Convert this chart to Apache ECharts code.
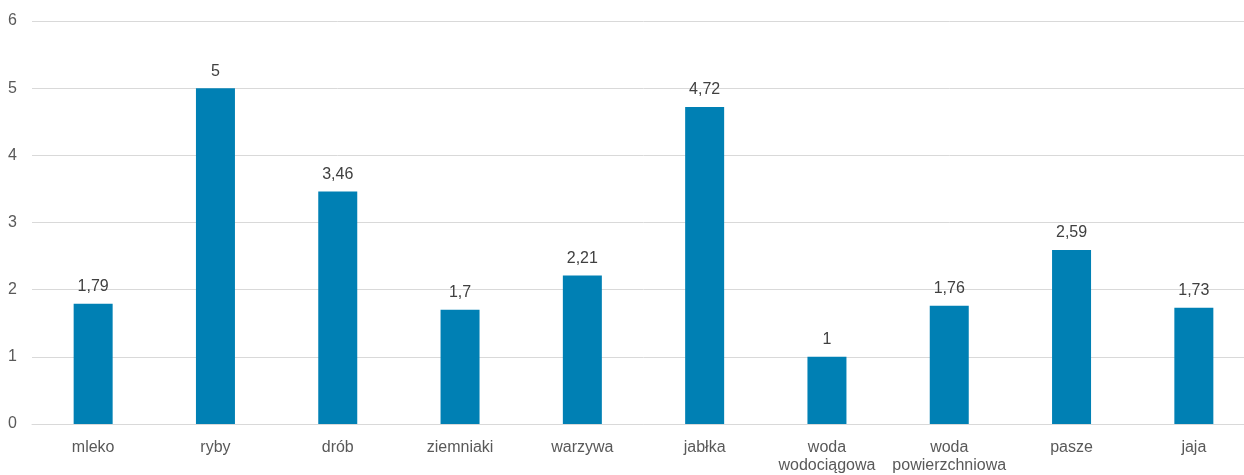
<!DOCTYPE html>
<html>
<head>
<meta charset="utf-8">
<script src="https://cdn.jsdelivr.net/npm/echarts@6/dist/echarts.min.js"></script>
<style>
  html, body { margin: 0; padding: 0; background: #fff; overflow: hidden; }
  /* plot runs past the right edge of the window, like the original */
  #chart { width: 1255px; height: 475px; }
</style>
</head>
<body>
<div id="chart"></div>
<script>
const categories = ['mleko', 'ryby', 'drób', 'ziemniaki', 'warzywa', 'jabłka', 'woda\nwodociągowa', 'woda\npowierzchniowa', 'pasze', 'jaja']
const values = [1.79, 5, 3.46, 1.7, 2.21, 4.72, 1, 1.76, 2.59, 1.73]

const textColor = '#595959'
const font = 'Liberation Sans, Arial, sans-serif'

var chart = echarts.init(document.getElementById('chart'))

var option = {
  animation: false,
  grid: {
    left: 32,
    top: 21,
    right: 0,
    bottom: 50
  },
  xAxis: {
    type: 'category',
    data: categories,
    axisLine: { lineStyle: { color: '#d9d9d9' } },
    axisTick: { show: false },
    axisLabel: {
      color: textColor,
      fontFamily: font,
      fontSize: 16,
      margin: 15,
      lineHeight: 18,
      interval: 0
    }
  },
  yAxis: {
    type: 'value',
    min: 0,
    max: 6,
    interval: 1,
    axisLine: { show: false },
    axisTick: { show: false },
    splitLine: { lineStyle: { color: '#d9d9d9' } },
    axisLabel: {
      color: textColor,
      fontFamily: font,
      fontSize: 16,
      margin: 15
    }
  },
  series: [{
    type: 'bar',
    data: values,
    barWidth: 39,
    itemStyle: { color: '#0080B4' },
    label: {
      show: true,
      position: 'top',
      distance: 9,
      color: '#404040',
      fontFamily: font,
      fontSize: 16,
      formatter: function (p) {
        return String(p.value).replace('.', ',')
      }
    }
  }]
}

chart.setOption(option)
</script>
</body>
</html>
